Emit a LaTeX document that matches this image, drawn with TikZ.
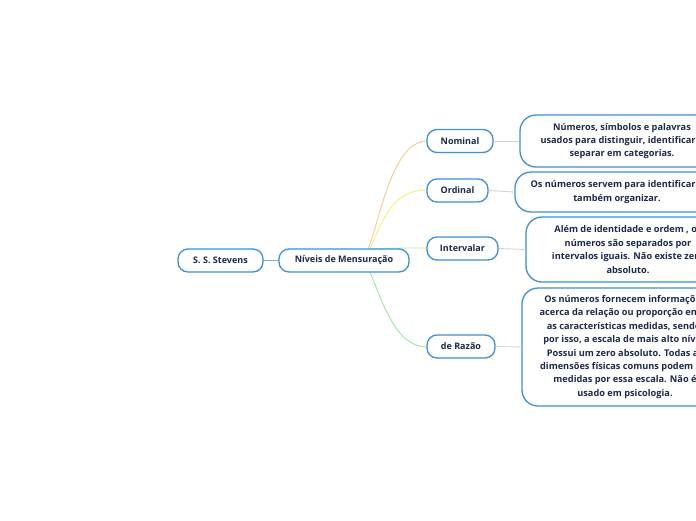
\documentclass[tikz,border=0pt]{standalone}
\usepackage{fontspec}
\setmainfont{Open Sans}
\definecolor{nodeblue}{HTML}{3D8FD6}
\definecolor{navy}{HTML}{1C2A4A}
\definecolor{corange}{HTML}{F7C98A}
\definecolor{cyellow}{HTML}{F2F07E}
\definecolor{clime}{HTML}{C6EE86}
\definecolor{cgreen}{HTML}{9BE89A}
\definecolor{cgray}{HTML}{D4D4D4}
\tikzset{
  topic/.style={draw=nodeblue, line width=1.3pt, fill=white, rounded corners=10pt,
    text=navy, font=\fontsize{9}{11}\selectfont\bfseries, inner sep=0pt, minimum height=23pt},
  descbox/.style={draw=nodeblue, line width=1.3pt, fill=white, rounded corners=16pt,
    text=navy, font=\fontsize{9.2}{13.4}\selectfont\bfseries, align=center, inner sep=0pt},
  link/.style={line width=0.9pt},
}
\begin{document}
\begin{tikzpicture}[x=1pt,y=-1pt]
\useasboundingbox (0,0) rectangle (696,520);
\clip (0,0) rectangle (696,520);
\fill[white] (0,0) rectangle (696,520);
% connectors first
\coordinate (sN) at (368,249);
\coordinate (sO) at (370,249);
\coordinate (sI) at (372,249);
\coordinate (sR) at (370,272);
\draw[link,corange] (sN) .. controls (380,220) and (392,141) .. (427,141);
\draw[link,cyellow] (sO) .. controls (384,215) and (395,190) .. (427,190);
\draw[link,clime] (sI) .. controls (390,248) and (405,248) .. (427,248);
\draw[link,cgreen] (sR) .. controls (382,300) and (395,347) .. (427,347);
\draw[link,nodeblue!70] (263,260) -- (279,260);
% nodes
\node[topic, minimum width=85pt] (root) at (220.5,260.5) {S. S. Stevens};
\node[topic, minimum width=130pt] (niv) at (344,260.5) {Níveis de Mensuração};
\node[topic, minimum width=66pt] (nom) at (460,141) {Nominal};
\node[topic, minimum width=61pt] (ord) at (457.5,190.5) {Ordinal};
\node[topic, minimum width=71pt] (int) at (462.5,248.5) {Intervalar};
\node[topic, minimum width=68pt] (raz) at (461,346.5) {de Razão};
\node[descbox, minimum width=204pt, minimum height=52pt] (dnom) at (622,141)
  {Números, símbolos e palavras\\usados para distinguir, identificar e\\separar em categorias.};
\node[descbox, minimum width=204pt, minimum height=40pt] (dord) at (617,192)
  {Os números servem para identificar e\\também organizar.};
\node[descbox, minimum width=204pt, minimum height=65pt] (dint) at (628,249.5)
  {Além de identidade e ordem , os\\números são separados por\\intervalos iguais. Não existe zero\\absoluto.};
\node[descbox, minimum width=206pt, minimum height=118pt] (draz) at (625,347)
  {Os números fornecem informações\\acerca da relação ou proporção entre\\as características medidas, sendo,\\por isso, a escala de mais alto nível.\\Possui um zero absoluto. Todas as\\dimensões físicas comuns podem ser\\medidas por essa escala. Não é\\usado em psicologia.};
\draw[link,cgray] (nom.east) -- (dnom.west);
\draw[link,cgray] (ord.east) -- (dord.west);
\draw[link,cgray] (int.east) -- (dint.west);
\draw[link,cgray] (raz.east) -- (draz.west);
\end{tikzpicture}
\end{document}
